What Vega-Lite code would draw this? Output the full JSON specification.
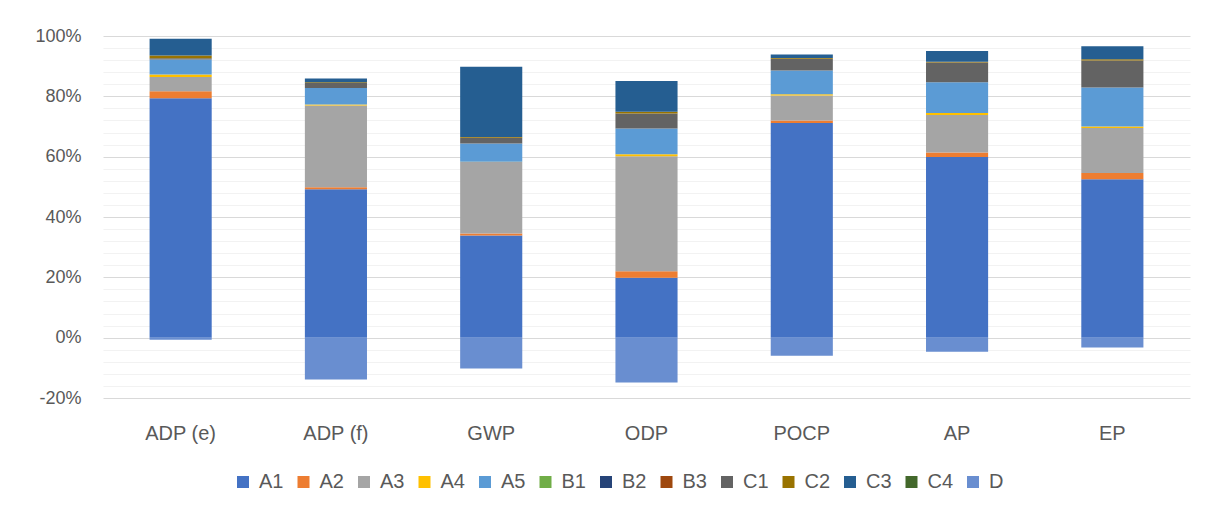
{
  "$schema": "https://vega.github.io/schema/vega-lite/v6.json",
  "width": 1087,
  "height": 362,
  "autosize": {"type": "none"},
  "padding": {"left": 103, "top": 36, "right": 25, "bottom": 117},
  "background": "white",
  "config": {
    "view": {"stroke": null},
    "font": "Liberation Sans"
  },
  "data": {
    "values": [
      {"cat": "ADP (e)", "comp": "A1", "idx": 1, "v": 79.4},
      {"cat": "ADP (e)", "comp": "A2", "idx": 2, "v": 2.3},
      {"cat": "ADP (e)", "comp": "A3", "idx": 3, "v": 4.7},
      {"cat": "ADP (e)", "comp": "A4", "idx": 4, "v": 0.8},
      {"cat": "ADP (e)", "comp": "A5", "idx": 5, "v": 5.0},
      {"cat": "ADP (e)", "comp": "C1", "idx": 9, "v": 0.4},
      {"cat": "ADP (e)", "comp": "C2", "idx": 10, "v": 0.9},
      {"cat": "ADP (e)", "comp": "C3", "idx": 11, "v": 5.6},
      {"cat": "ADP (e)", "comp": "D", "idx": 13, "v": -0.7},
      {"cat": "ADP (f)", "comp": "A1", "idx": 1, "v": 49.2},
      {"cat": "ADP (f)", "comp": "A2", "idx": 2, "v": 0.7},
      {"cat": "ADP (f)", "comp": "A3", "idx": 3, "v": 27.1},
      {"cat": "ADP (f)", "comp": "A4", "idx": 4, "v": 0.3},
      {"cat": "ADP (f)", "comp": "A5", "idx": 5, "v": 5.5},
      {"cat": "ADP (f)", "comp": "C1", "idx": 9, "v": 1.6},
      {"cat": "ADP (f)", "comp": "C2", "idx": 10, "v": 0.3},
      {"cat": "ADP (f)", "comp": "C3", "idx": 11, "v": 1.2},
      {"cat": "ADP (f)", "comp": "D", "idx": 13, "v": -13.9},
      {"cat": "GWP", "comp": "A1", "idx": 1, "v": 33.9},
      {"cat": "GWP", "comp": "A2", "idx": 2, "v": 0.6},
      {"cat": "GWP", "comp": "A3", "idx": 3, "v": 23.7},
      {"cat": "GWP", "comp": "A4", "idx": 4, "v": 0.1},
      {"cat": "GWP", "comp": "A5", "idx": 5, "v": 6.1},
      {"cat": "GWP", "comp": "C1", "idx": 9, "v": 1.9},
      {"cat": "GWP", "comp": "C2", "idx": 10, "v": 0.2},
      {"cat": "GWP", "comp": "C3", "idx": 11, "v": 23.3},
      {"cat": "GWP", "comp": "D", "idx": 13, "v": -10.2},
      {"cat": "ODP", "comp": "A1", "idx": 1, "v": 19.9},
      {"cat": "ODP", "comp": "A2", "idx": 2, "v": 2.1},
      {"cat": "ODP", "comp": "A3", "idx": 3, "v": 38.1},
      {"cat": "ODP", "comp": "A4", "idx": 4, "v": 0.7},
      {"cat": "ODP", "comp": "A5", "idx": 5, "v": 8.5},
      {"cat": "ODP", "comp": "C1", "idx": 9, "v": 5.0},
      {"cat": "ODP", "comp": "C2", "idx": 10, "v": 0.6},
      {"cat": "ODP", "comp": "C3", "idx": 11, "v": 10.2},
      {"cat": "ODP", "comp": "D", "idx": 13, "v": -14.9},
      {"cat": "POCP", "comp": "A1", "idx": 1, "v": 71.2},
      {"cat": "POCP", "comp": "A2", "idx": 2, "v": 0.8},
      {"cat": "POCP", "comp": "A3", "idx": 3, "v": 8.3},
      {"cat": "POCP", "comp": "A4", "idx": 4, "v": 0.4},
      {"cat": "POCP", "comp": "A5", "idx": 5, "v": 7.9},
      {"cat": "POCP", "comp": "C1", "idx": 9, "v": 3.9},
      {"cat": "POCP", "comp": "C2", "idx": 10, "v": 0.2},
      {"cat": "POCP", "comp": "C3", "idx": 11, "v": 1.2},
      {"cat": "POCP", "comp": "D", "idx": 13, "v": -6.0},
      {"cat": "AP", "comp": "A1", "idx": 1, "v": 59.9},
      {"cat": "AP", "comp": "A2", "idx": 2, "v": 1.5},
      {"cat": "AP", "comp": "A3", "idx": 3, "v": 12.4},
      {"cat": "AP", "comp": "A4", "idx": 4, "v": 0.7},
      {"cat": "AP", "comp": "A5", "idx": 5, "v": 10.2},
      {"cat": "AP", "comp": "C1", "idx": 9, "v": 6.5},
      {"cat": "AP", "comp": "C2", "idx": 10, "v": 0.3},
      {"cat": "AP", "comp": "C3", "idx": 11, "v": 3.5},
      {"cat": "AP", "comp": "D", "idx": 13, "v": -4.7},
      {"cat": "EP", "comp": "A1", "idx": 1, "v": 52.5},
      {"cat": "EP", "comp": "A2", "idx": 2, "v": 2.1},
      {"cat": "EP", "comp": "A3", "idx": 3, "v": 14.9},
      {"cat": "EP", "comp": "A4", "idx": 4, "v": 0.5},
      {"cat": "EP", "comp": "A5", "idx": 5, "v": 12.9},
      {"cat": "EP", "comp": "C1", "idx": 9, "v": 9.0},
      {"cat": "EP", "comp": "C2", "idx": 10, "v": 0.4},
      {"cat": "EP", "comp": "C3", "idx": 11, "v": 4.3},
      {"cat": "EP", "comp": "D", "idx": 13, "v": -3.3}
    ]
  },
  "mark": {"type": "bar"},
  "encoding": {
    "x": {
      "field": "cat",
      "type": "nominal",
      "sort": ["ADP (e)", "ADP (f)", "GWP", "ODP", "POCP", "AP", "EP"],
      "scale": {"paddingInner": 0.6, "paddingOuter": 0.3},
      "axis": {
        "title": null,
        "labelAngle": 0,
        "domain": false,
        "ticks": false,
        "labelPadding": 25,
        "labelFontSize": 20,
        "labelColor": "#595959",
        "labelFont": "Liberation Sans"
      }
    },
    "y": {
      "field": "v",
      "type": "quantitative",
      "stack": "zero",
      "scale": {"domain": [-20, 100], "nice": false},
      "axis": {
        "title": null,
        "values": [-20, -16, -12, -8, -4, 0, 4, 8, 12, 16, 20, 24, 28, 32, 36, 40, 44, 48, 52, 56, 60, 64, 68, 72, 76, 80, 84, 88, 92, 96, 100],
        "labelExpr": "datum.value % 20 === 0 ? datum.value + '%' : ''",
        "domain": false,
        "ticks": false,
        "labelPadding": 22,
        "labelFontSize": 18,
        "labelColor": "#595959",
        "labelFont": "Liberation Sans",
        "gridColor": {"condition": {"test": "datum.value % 20 === 0", "value": "#d9d9d9"}, "value": "#f2f2f2"},
        "gridWidth": 1.2
      }
    },
    "color": {
      "field": "comp",
      "type": "nominal",
      "scale": {
        "domain": ["A1", "A2", "A3", "A4", "A5", "B1", "B2", "B3", "C1", "C2", "C3", "C4", "D"],
        "range": ["#4472C4", "#ED7D31", "#A5A5A5", "#FFC000", "#5B9BD5", "#70AD47", "#264478", "#9E480E", "#636363", "#997300", "#255E91", "#43682B", "#698ED0"]
      },
      "legend": {
        "title": null,
        "orient": "none",
        "legendX": 130,
        "legendY": 436,
        "direction": "horizontal",
        "columns": 13,
        "symbolType": "square",
        "symbolSize": 144,
        "symbolStrokeWidth": 0,
        "labelFontSize": 20,
        "labelColor": "#595959",
        "labelFont": "Liberation Sans",
        "labelOffset": 6,
        "columnPadding": 9.5
      }
    },
    "order": {"field": "idx", "type": "quantitative"}
  }
}
